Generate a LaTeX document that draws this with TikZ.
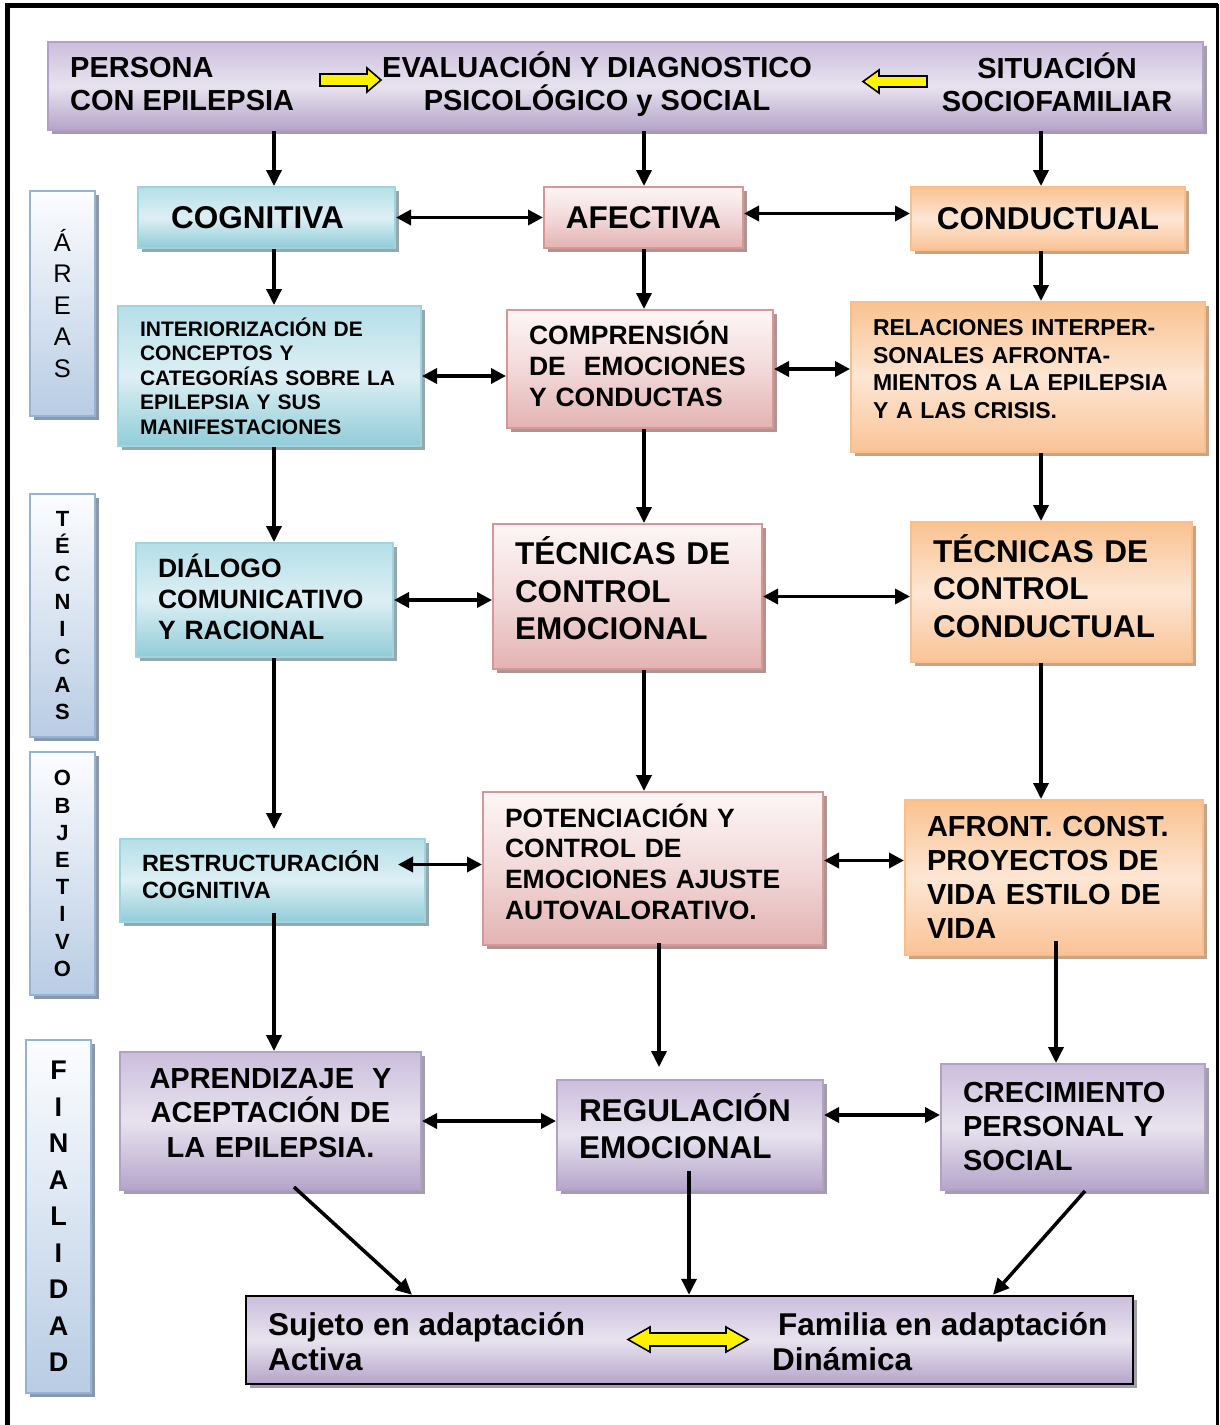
\documentclass[tikz,border=0pt]{standalone}
\usepackage{fontspec}
\setmainfont{Liberation Sans}
\usetikzlibrary{arrows.meta,shadows,calc}
\hyphenpenalty=10000
\exhyphenpenalty=10000
\newcommand\fsz[2]{\fontsize{#1}{#2}\selectfont}
\newcommand\lift[1]{\rule[-#1]{0pt}{0pt}}

\definecolor{tealT}{HTML}{B5DFE8}
\definecolor{tealM}{HTML}{DDEFF4}
\definecolor{tealD}{HTML}{90CCD8}
\definecolor{tealB}{HTML}{9FD4DF}
\definecolor{tealS}{HTML}{94A8AE}
\definecolor{pinkT}{HTML}{FDF6F6}
\definecolor{pinkM}{HTML}{F2D9D9}
\definecolor{pinkD}{HTML}{E3B3B2}
\definecolor{pinkB}{HTML}{D99694}
\definecolor{pinkS}{HTML}{B09494}
\definecolor{oraT}{HTML}{F9C290}
\definecolor{oraM}{HTML}{FDE6D4}
\definecolor{oraD}{HTML}{FAC396}
\definecolor{oraB}{HTML}{F9BE8C}
\definecolor{oraS}{HTML}{C8A486}
\definecolor{purT}{HTML}{CBBEDC}
\definecolor{purM}{HTML}{E8E3EF}
\definecolor{purD}{HTML}{B5A4CA}
\definecolor{purB}{HTML}{B2A1C7}
\definecolor{purS}{HTML}{A49EAC}
\definecolor{bluT}{HTML}{FCFDFF}
\definecolor{bluD}{HTML}{B8CCE4}
\definecolor{bluB}{HTML}{95B3D7}
\definecolor{bluS}{HTML}{8A98AC}

\begin{document}
\begin{tikzpicture}[x=1pt,y=-1pt,
  box/.style={rectangle, line width=2pt, inner xsep=22pt, inner ysep=4pt, align=left},
  tealbox/.style={box, draw=tealB, top color=tealT, bottom color=tealD, middle color=tealM,
    general shadow={fill=tealS, shadow xshift=4pt, shadow yshift=-4pt}},
  pinkbox/.style={box, draw=pinkB, top color=pinkT, bottom color=pinkD, middle color=pinkM,
    general shadow={fill=pinkS, shadow xshift=4pt, shadow yshift=-4pt}},
  orabox/.style={box, draw=oraB, top color=oraT, bottom color=oraD, middle color=oraM,
    general shadow={fill=oraS, shadow xshift=4pt, shadow yshift=-4pt}},
  purbox/.style={box, draw=purB, top color=purT, bottom color=purD, middle color=purM,
    general shadow={fill=purS, shadow xshift=4pt, shadow yshift=-4pt}},
  labbox/.style={rectangle, line width=2pt, draw=bluB, top color=bluT, bottom color=bluD,
    align=center, inner sep=0pt, minimum width=65pt,
    general shadow={fill=bluS, shadow xshift=4pt, shadow yshift=-4pt}},
  txt/.style={inner sep=0pt, font=\bfseries\fsz{29}{33}},
  arr/.style={line width=3.5pt, -{Triangle[length=16pt,width=15pt]}},
  darr/.style={line width=3.5pt, {Triangle[length=15pt,width=15pt]}-{Triangle[length=15pt,width=15pt]}},
  yarrow/.style={fill=yellow, draw=black, line width=1.6pt, line join=miter}
]
\fill[white] (0,0) rectangle (1220,1425);
\useasboundingbox (0,0) rectangle (1220,1425);

% outer frame
\draw[line width=5pt] (7.5,1425) -- (7.5,5.5) -- (1218,5.5);
\draw[line width=3pt] (1217.5,4) -- (1217.5,1425);

% column coordinates
\coordinate (c1) at (274,0);
\coordinate (c2) at (644,0);
\coordinate (c3) at (1041,0);
\coordinate (c4) at (659,0);
\coordinate (c5) at (689,0);
\coordinate (c6) at (1056,0);
\coordinate (d1) at (412,0);
\coordinate (d2) at (993,0);

% top bar
\node[purbox, minimum width=1155pt, minimum height=88pt] (top) at (625.5,86) {};
\node[txt, anchor=west, align=left] (t1) at (70,84.5) {PERSONA\\CON EPILEPSIA};
\node[txt, align=center] (t2) at (597,84.5) {EVALUACIÓN Y DIAGNOSTICO\\PSICOLÓGICO y SOCIAL};
\node[txt, align=center] (t3) at (1057,82.5) {SITUACIÓN\\SOCIOFAMILIAR};
\draw[yarrow] (320,74) -- (367,74) -- (367,68) -- (381,80) -- (367,92) -- (367,86) -- (320,86) -- cycle;
\draw[yarrow] (927,76) -- (879,76) -- (879,70) -- (863,81.5) -- (879,93) -- (879,87) -- (927,87) -- cycle;

% side labels
\node[labbox, minimum height=225pt, font=\fsz{25.5}{31.5}] (lab1) at (62.5,303.5) {Á\\R\\E\\A\\S};
\node[labbox, minimum height=243pt, font=\bfseries\fsz{22}{27.7}] (lab2) at (62.5,615.5) {T\\É\\C\\N\\I\\C\\A\\S};
\node[labbox, minimum height=243pt, font=\bfseries\fsz{22}{27.2}] (lab3) at (62.5,873.5) {O\\B\\J\\E\\T\\I\\V\\O};
\node[labbox, minimum height=353pt, font=\bfseries\fsz{27}{36.5}] (lab4) at (58.5,1216.5) {F\\I\\N\\A\\L\\I\\D\\A\\D};

% row 1
\node[tealbox, align=center, inner xsep=0pt, minimum width=257pt, minimum height=61pt, font=\bfseries\fsz{31.5}{36}] (cog) at (266.5,217.5) {COGNITIVA\hspace*{18pt}};
\node[pinkbox, align=center, inner xsep=0pt, minimum width=199pt, minimum height=61pt, font=\bfseries\fsz{31.5}{36}] (afe) at (643.5,217.5) {AFECTIVA};
\node[orabox, align=center, inner xsep=0pt, minimum width=274pt, minimum height=63pt, font=\bfseries\fsz{31.5}{36}] (con) at (1048,218.5) {CONDUCTUAL};

% row 2
\node[tealbox, text width=259pt, minimum width=303pt, minimum height=140pt, font=\bfseries\fsz{21}{24.5}] (int) at (269.5,376)
  {INTERIORIZACIÓN DE\\CONCEPTOS Y\\CATEGORÍAS SOBRE LA\\EPILEPSIA Y SUS\\MANIFESTACIONES};
\node[pinkbox, text width=222pt, minimum width=266pt, minimum height=118pt, font=\bfseries\fsz{26.5}{31}] (comp) at (640,369)
  {COMPRENSIÓN\\DE\hspace{18pt}EMOCIONES\\Y CONDUCTAS\lift{10pt}};
\node[orabox, text width=310pt, minimum width=354pt, minimum height=150pt, font=\bfseries\fsz{23}{27.7}] (rel) at (1028,377)
  {RELACIONES INTERPER-\\SONALES AFRONTA-\\MIENTOS A LA EPILEPSIA\\Y A LAS CRISIS.\lift{16pt}};

% row 3
\node[tealbox, text width=213pt, minimum width=257pt, minimum height=114pt, font=\bfseries\fsz{26.5}{31}] (dia) at (264.5,600)
  {DIÁLOGO\\COMUNICATIVO\\Y RACIONAL\lift{6pt}};
\node[pinkbox, text width=225pt, minimum width=269pt, minimum height=145pt, font=\bfseries\fsz{31.5}{37.5}] (tece) at (627.5,596.5)
  {TÉCNICAS DE\\CONTROL\\EMOCIONAL\lift{16pt}};
\node[orabox, text width=237pt, minimum width=281pt, minimum height=140pt, font=\bfseries\fsz{31.5}{37.5}] (tecc) at (1051.5,592)
  {TÉCNICAS DE\\CONTROL\\CONDUCTUAL\lift{12pt}};

% row 4
\node[tealbox, text width=261pt, minimum width=305pt, minimum height=83pt, font=\bfseries\fsz{23.5}{27}] (restr) at (272.5,880.5)
  {RESTRUCTURACIÓN\\COGNITIVA\lift{12pt}};
\node[pinkbox, text width=296pt, minimum width=340pt, minimum height=153pt, font=\bfseries\fsz{26.5}{30.7}] (pot) at (653,868.5)
  {POTENCIACIÓN Y\\CONTROL DE\\EMOCIONES AJUSTE\\AUTOVALORATIVO.\lift{14pt}};
\node[orabox, text width=254pt, minimum width=298pt, minimum height=155pt, font=\bfseries\fsz{29}{34}] (afr) at (1054,877.5)
  {AFRONT. CONST.\\PROYECTOS DE\\VIDA ESTILO DE\\VIDA};

% row 5
\node[purbox, align=center, text width=257pt, minimum width=301pt, minimum height=138pt, font=\bfseries\fsz{29}{34.5}] (apr) at (270.5,1121)
  {APRENDIZAJE\hspace{18pt}Y\\ACEPTACIÓN DE\\LA EPILEPSIA.\lift{16pt}};
\node[purbox, text width=222pt, minimum width=266pt, minimum height=110pt, font=\bfseries\fsz{31.5}{37}] (reg) at (690,1135)
  {REGULACIÓN\\EMOCIONAL\lift{18pt}};
\node[purbox, text width=220pt, minimum width=264pt, minimum height=126pt, font=\bfseries\fsz{29}{34}] (cre) at (1073,1127)
  {CRECIMIENTO\\PERSONAL Y\\SOCIAL};

% bottom box
\node[purbox, draw=black, line width=2.5pt, minimum width=887pt, minimum height=88pt] (bot) at (689.5,1340) {};
\node[txt, anchor=west, align=left, font=\bfseries\fsz{31.5}{35}] (b1) at (268,1342) {Sujeto en adaptación\\Activa};
\node[txt, anchor=west, align=left, font=\bfseries\fsz{31.5}{35}] (b2) at (772,1342) {\hspace*{6pt}Familia en adaptación\\Dinámica};
\draw[yarrow] (628,1339.5) -- (650,1327) -- (650,1333) -- (726,1333) -- (726,1327) -- (748,1339.5)
  -- (726,1352) -- (726,1346) -- (650,1346) -- (650,1352) -- cycle;

% vertical arrows
\draw[arr] (top.south -| c1) -- (cog.north -| c1);
\draw[arr] (top.south -| c2) -- (afe.north -| c2);
\draw[arr] (top.south -| c3) -- (con.north -| c3);
\draw[arr] (cog.south -| c1) -- (int.north -| c1);
\draw[arr] (afe.south -| c2) -- (comp.north -| c2);
\draw[arr] (con.south -| c3) -- (rel.north -| c3);
\draw[arr] (int.south -| c1) -- (dia.north -| c1);
\draw[arr] (comp.south -| c2) -- (tece.north -| c2);
\draw[arr] (rel.south -| c3) -- (tecc.north -| c3);
\draw[arr] (dia.south -| c1) -- ($(restr.north -| c1)+(0,-9)$);
\draw[arr] (tece.south -| c2) -- (pot.north -| c2);
\draw[arr] (tecc.south -| c3) -- (afr.north -| c3);
\draw[arr] ($(restr.south -| c1)+(0,-10)$) -- (apr.north -| c1);
\draw[arr] ($(pot.south -| c4)+(0,-3)$) -- ($(reg.north -| c4)+(0,-12)$);
\draw[arr] ($(afr.south -| c6)+(0,-15)$) -- (cre.north -| c6);
\draw[arr] ($(reg.south -| c5)+(0,-20)$) -- (bot.north -| c5);
\draw[arr] ($(apr.south)+(23.5,-4)$) -- (bot.north -| d1);
\draw[arr] ($(cre.south)+(12,0)$) -- (bot.north -| d2);

% horizontal double arrows
\draw[darr] (cog.east) -- (cog.east -| afe.west);
\draw[darr] ($(afe.east)+(0,-4)$) -- ($(afe.east -| con.west)+(0,-4)$);
\draw[darr] (int.east) -- (int.east -| comp.west);
\draw[darr] (comp.east) -- (comp.east -| rel.west);
\draw[darr] (dia.east) -- (dia.east -| tece.west);
\draw[darr] (tece.east) -- (tece.east -| tecc.west);
\draw[darr] ($(pot.west -| restr.east)+(-28,-4)$) -- ($(pot.west)+(0,-4)$);
\draw[darr] ($(pot.east)+(0,-8)$) -- ($(pot.east -| afr.west)+(0,-8)$);
\draw[darr] (apr.east) -- (apr.east -| reg.west);
\draw[darr] ($(reg.east)+(0,-20)$) -- ($(reg.east -| cre.west)+(0,-20)$);
\end{tikzpicture}
\end{document}
